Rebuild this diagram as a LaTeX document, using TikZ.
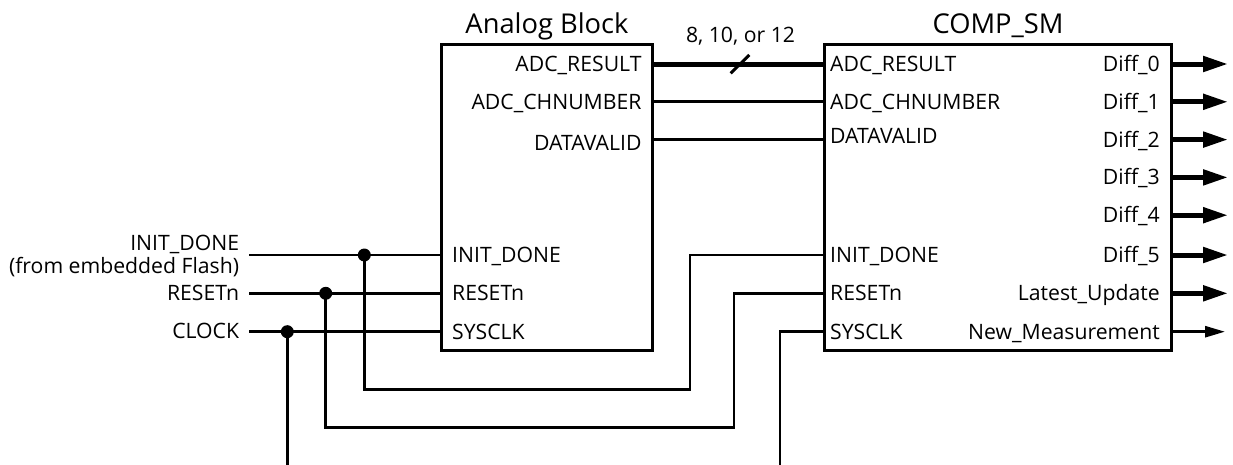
\documentclass[tikz,border=0pt]{standalone}
\usepackage{fontspec}
\setmainfont{Open Sans}
\usetikzlibrary{arrows.meta}
\begin{document}
\begin{tikzpicture}[x=1pt,y=-1pt,
  blk/.style={draw,line width=3pt,inner sep=0pt,fill=white},
  ttl/.style={font=\fontsize{27.3}{31}\selectfont,inner sep=0pt,anchor=base},
  lbl/.style={font=\fontsize{21.2}{24}\selectfont,inner sep=0pt},
  lblE/.style={lbl,anchor=base east},
  lblW/.style={lbl,anchor=base west},
  wire/.style={line width=2.7pt},
  bus/.style={line width=5pt},
  dot/.style={circle,fill=black,inner sep=0pt,minimum size=13pt},
  bigtip/.style={-{Triangle[length=25pt,width=15pt]}},
  smalltip/.style={-{Triangle[length=20pt,width=11pt]}}]
\useasboundingbox (0,0) rectangle (1233,464);

% boxes
\node[blk,minimum width=210.8pt,minimum height=306.7pt] (ab) at (547.1,197.6) {};
\node[blk,minimum width=347.2pt,minimum height=306.2pt] (cs) at (998.1,197.4) {};
\node[ttl] (abt) at (547,33) {Analog Block};
\node[ttl] (cst) at (998,33) {COMP\_SM};

% analog block ports
\node[lblE] (aP0) at (641.7,71.5) {ADC\_RESULT};
\node[lblE] (aP1) at (641.7,109.3) {ADC\_CHNUMBER};
\node[lblE] (aP2) at (641.7,150) {DATAVALID};
\node[lblW] (aP5) at (452,262.5) {INIT\_DONE};
\node[lblW] (aP6) at (452,300.8) {RESETn};
\node[lblW] (aP7) at (452,339.2) {SYSCLK};

% COMP_SM ports
\node[lblW] (cP0) at (830,71.5) {ADC\_RESULT};
\node[lblW] (cP1) at (830,109.3) {ADC\_CHNUMBER};
\node[lblW] (cP2) at (830,143) {DATAVALID};
\node[lblW] (cP5) at (830,262.5) {INIT\_DONE};
\node[lblW] (cP6) at (830,300.8) {RESETn};
\node[lblW] (cP7) at (830,339.2) {SYSCLK};
\node[lblE] (cQ0) at (1160,71.5) {Diff\_0};
\node[lblE] (cQ1) at (1160,109.3) {Diff\_1};
\node[lblE] (cQ2) at (1160,147.1) {Diff\_2};
\node[lblE] (cQ3) at (1160,184.9) {Diff\_3};
\node[lblE] (cQ4) at (1160,222.7) {Diff\_4};
\node[lblE] (cQ5) at (1160,262.5) {Diff\_5};
\node[lblE] (cQ6) at (1160,300.8) {Latest\_Update};
\node[lblE] (cQ7) at (1160,339.2) {New\_Measurement};

% external labels
\node[lblE] (xInit) at (239.3,250.7) {INIT\_DONE};
\node[lblE] (xInitSub) at (239.3,273.3) {(from embedded Flash)};
\node[lblE] (xRes) at (239.3,300) {RESETn};
\node[lblE] (xClk) at (239.3,338.3) {CLOCK};
\node[lbl,anchor=base] (busw) at (740.5,42.7) {8, 10, or 12};

% pin coordinates
\coordinate (aO0) at (652.5,64);
\coordinate (aO1) at (652.5,101.8);
\coordinate (aO2) at (652.5,139.6);
\coordinate (aI5) at (441.7,255);
\coordinate (aI6) at (441.7,293.3);
\coordinate (aI7) at (441.7,331.7);
\coordinate (cI0) at (824.5,64);
\coordinate (cI1) at (824.5,101.8);
\coordinate (cI2) at (824.5,139.6);
\coordinate (cI5) at (824.5,255);
\coordinate (cI6) at (824.5,293.3);
\coordinate (cI7) at (824.5,331.7);
\foreach \i/\y in {0/64,1/101.8,2/139.6,3/177.4,4/215.2,5/255,6/293.3,7/331.7}{
  \coordinate (cO\i) at (1171.7,\y);
  \coordinate (tO\i) at (1228,\y);
}
\coordinate (tO7) at (1225,331.7);
\coordinate (sInit) at (249.3,255);
\coordinate (sRes) at (249.3,293.3);
\coordinate (sClk) at (249.3,331.7);
\coordinate (kI) at (690,389.3);
\coordinate (kR) at (734,427.7);
\coordinate (eClk) at (287.3,466);
\coordinate (eSys) at (780,466);
\coordinate (sl1) at (730.7,73.3);
\coordinate (sl2) at (749.3,55);

% dots
\node[dot] (dI) at (364.3,255) {};
\node[dot] (dR) at (325.7,293.3) {};
\node[dot] (dC) at (287.3,331.7) {};

% connectors
\draw[bus] (aO0) -- (cI0);
\draw[line width=3pt] (sl1) -- (sl2);
\draw[wire] (aO1) -- (cI1);
\draw[wire] (aO2) -- (cI2);
\draw[wire] (sInit) -- (aI5);
\draw[wire] (sRes) -- (aI6);
\draw[wire] (sClk) -- (aI7);
\draw[wire] (dI.center) |- (kI) |- (cI5);
\draw[wire] (dR.center) |- (kR) |- (cI6);
\draw[wire] (dC.center) -- (eClk);
\draw[wire] (cI7) -| (eSys);
\foreach \i in {0,...,6}{
  \draw[bus,bigtip] (cO\i) -- (tO\i);
}
\draw[wire,smalltip] (cO7) -- (tO7);
\end{tikzpicture}
\end{document}
